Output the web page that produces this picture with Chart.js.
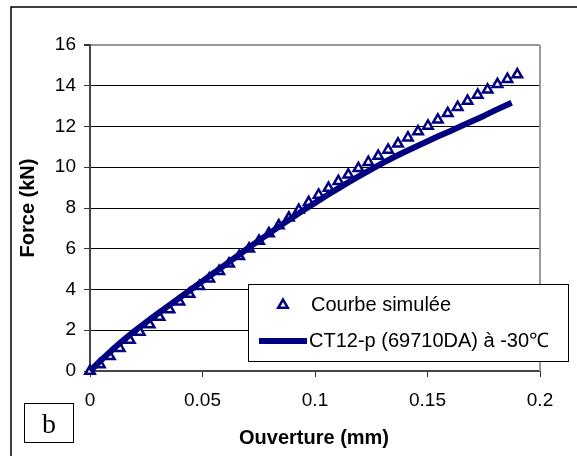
<!DOCTYPE html>
<html lang="fr">
<head>
<meta charset="UTF-8">
<title>Force - Ouverture</title>
<script src="https://cdn.jsdelivr.net/npm/chart.js"></script>
<style>
    body { margin: 0; background: #fff; }
    canvas { display: block; }
</style>
</head>
<body>
<canvas id="grafico" width="577" height="456"></canvas>
<script>
// Courbe simulée (triangles)
const simX = [0, 0.0044, 0.0088, 0.0132, 0.0177, 0.0221, 0.0265, 0.0309, 0.0353, 0.0397, 0.0442,
    0.0486, 0.0530, 0.0574, 0.0618, 0.0663, 0.0707, 0.0751, 0.0795, 0.0839, 0.0884, 0.0928,
    0.0972, 0.1016, 0.1060, 0.1104, 0.1148, 0.1193, 0.1237, 0.1281, 0.1325, 0.1369, 0.1413,
    0.1458, 0.1502, 0.1546, 0.1590, 0.1634, 0.1678, 0.1723, 0.1767, 0.1811, 0.1855, 0.1899];
const simY = [0, 0.32, 0.72, 1.12, 1.52, 1.91, 2.28, 2.65, 3.02, 3.40, 3.78,
    4.16, 4.53, 4.90, 5.26, 5.63, 6.00, 6.38, 6.75, 7.14, 7.52, 7.90,
    8.28, 8.64, 8.98, 9.31, 9.63, 9.95, 10.25, 10.55, 10.85, 11.15, 11.45,
    11.75, 12.03, 12.33, 12.65, 12.95, 13.25, 13.55, 13.80, 14.07, 14.32, 14.55];

// Essai CT12-p (trait continu)
const essaiX = [0, 0.005, 0.01, 0.015, 0.02, 0.025, 0.03, 0.035, 0.04, 0.045, 0.05,
    0.055, 0.06, 0.065, 0.07, 0.075, 0.08, 0.085, 0.09, 0.095, 0.1,
    0.105, 0.11, 0.115, 0.12, 0.125, 0.13, 0.135, 0.14, 0.145, 0.15,
    0.155, 0.16, 0.165, 0.17, 0.175, 0.18, 0.1874];
const essaiY = [0, 0.54, 1.05, 1.53, 1.98, 2.40, 2.81, 3.21, 3.61, 4.01, 4.41,
    4.81, 5.21, 5.61, 6.01, 6.40, 6.78, 7.16, 7.53, 7.90, 8.25,
    8.60, 8.94, 9.27, 9.59, 9.90, 10.20, 10.49, 10.76, 11.02, 11.28,
    11.53, 11.77, 12.02, 12.27, 12.52, 12.79, 13.17];

const nomSimu = 'Courbe simulée';
const nomEssai = 'CT12-p (69710DA) à -30℃';
const ticksX = ['0', '0.05', '0.1', '0.15', '0.2'];
const ticksY = ['0', '2', '4', '6', '8', '10', '12', '14', '16'];

const bleu = '#000080';
const police = "'Liberation Sans', Arial, sans-serif";

function points(xs, ys) {
    return xs.map(function (x, i) { return { x: x, y: ys[i] }; });
}

// cadre, titres des axes, legende et la case "b"
const decor = {
    id: 'decor',
    afterDraw(chart) {
        const ctx = chart.ctx;
        const a = chart.chartArea;
        ctx.save();

        // bord droit gris de la zone de trace
        ctx.strokeStyle = '#999';
        ctx.lineWidth = 2;
        ctx.beginPath();
        ctx.moveTo(a.right, a.top);
        ctx.lineTo(a.right, a.bottom);
        ctx.stroke();

        // cadre exterieur
        ctx.strokeStyle = '#000';
        ctx.lineWidth = 1.5;
        ctx.beginPath();
        ctx.moveTo(11, 456);
        ctx.lineTo(11, 7);
        ctx.lineTo(577, 7);
        ctx.stroke();

        // titres des axes
        ctx.fillStyle = '#000';
        ctx.font = 'bold 20px ' + police;
        ctx.textAlign = 'center';
        ctx.textBaseline = 'middle';
        ctx.fillText('Ouverture (mm)', 314, 438);
        ctx.save();
        ctx.translate(28, 208);
        ctx.rotate(-Math.PI / 2);
        ctx.fillText('Force (kN)', 0, 0);
        ctx.restore();

        // case "b"
        ctx.lineWidth = 1;
        ctx.strokeRect(24.5, 403.5, 49, 39);
        ctx.font = "28px 'Liberation Serif', 'Times New Roman', serif";
        ctx.textBaseline = 'alphabetic';
        ctx.fillText('b', 49, 433);

        // legende
        ctx.fillStyle = '#fff';
        ctx.fillRect(248, 284, 320, 77);
        ctx.strokeStyle = '#000';
        ctx.strokeRect(248.5, 284.5, 320, 77);

        ctx.strokeStyle = bleu;
        ctx.fillStyle = '#fff';
        ctx.lineWidth = 2.5;
        Chart.helpers.drawPoint(ctx, { pointStyle: 'triangle', radius: 5.5, borderWidth: 2.5 }, 283, 305);

        ctx.lineWidth = 6;
        ctx.beginPath();
        ctx.moveTo(259, 341);
        ctx.lineTo(307, 341);
        ctx.stroke();

        ctx.fillStyle = '#000';
        ctx.font = '20px ' + police;
        ctx.textAlign = 'left';
        ctx.textBaseline = 'middle';
        ctx.fillText(nomSimu, 311, 305);
        ctx.fillText(nomEssai, 309, 341);

        ctx.restore();
    }
};

new Chart(document.getElementById('grafico'), {
    type: 'scatter',
    data: {
        datasets: [{
            label: nomSimu,
            data: points(simX, simY),
            showLine: false,
            pointStyle: 'triangle',
            pointRadius: 5.5,
            pointBorderWidth: 2.5,
            pointBorderColor: bleu,
            pointBackgroundColor: '#fff',
            clip: false,
            order: 1
        }, {
            label: nomEssai,
            data: points(essaiX, essaiY),
            showLine: true,
            borderColor: bleu,
            borderWidth: 6,
            borderJoinStyle: 'round',
            pointRadius: 0,
            clip: false,
            order: 0
        }]
    },
    options: {
        responsive: false,
        animation: false,
        layout: { padding: { top: 45, right: 37, left: 0, bottom: 0 } },
        plugins: { legend: { display: false }, tooltip: { enabled: false } },
        scales: {
            x: {
                type: 'linear',
                min: 0,
                max: 0.2,
                afterFit: function (s) { s.height = 85; },
                ticks: {
                    stepSize: 0.05,
                    maxRotation: 0,
                    padding: 12,
                    color: '#000',
                    font: { family: police, size: 19 },
                    callback: function (v, i) { return ticksX[i]; }
                },
                grid: { drawOnChartArea: false, tickLength: 6, tickColor: '#333' },
                border: { color: '#444', width: 2 }
            },
            y: {
                min: 0,
                max: 16,
                afterFit: function (s) { s.width = 90; },
                ticks: {
                    stepSize: 2,
                    padding: 8,
                    color: '#000',
                    font: { family: police, size: 19 },
                    callback: function (v, i) { return ticksY[i]; }
                },
                grid: {
                    color: function (c) { return c.tick && c.tick.value === 16 ? '#999' : '#000'; },
                    lineWidth: function (c) { return c.tick && c.tick.value === 16 ? 2 : 1; },
                    tickLength: 6,
                    tickColor: '#333'
                },
                border: { color: '#444', width: 2 }
            }
        }
    },
    plugins: [decor]
});
</script>
</body>
</html>
